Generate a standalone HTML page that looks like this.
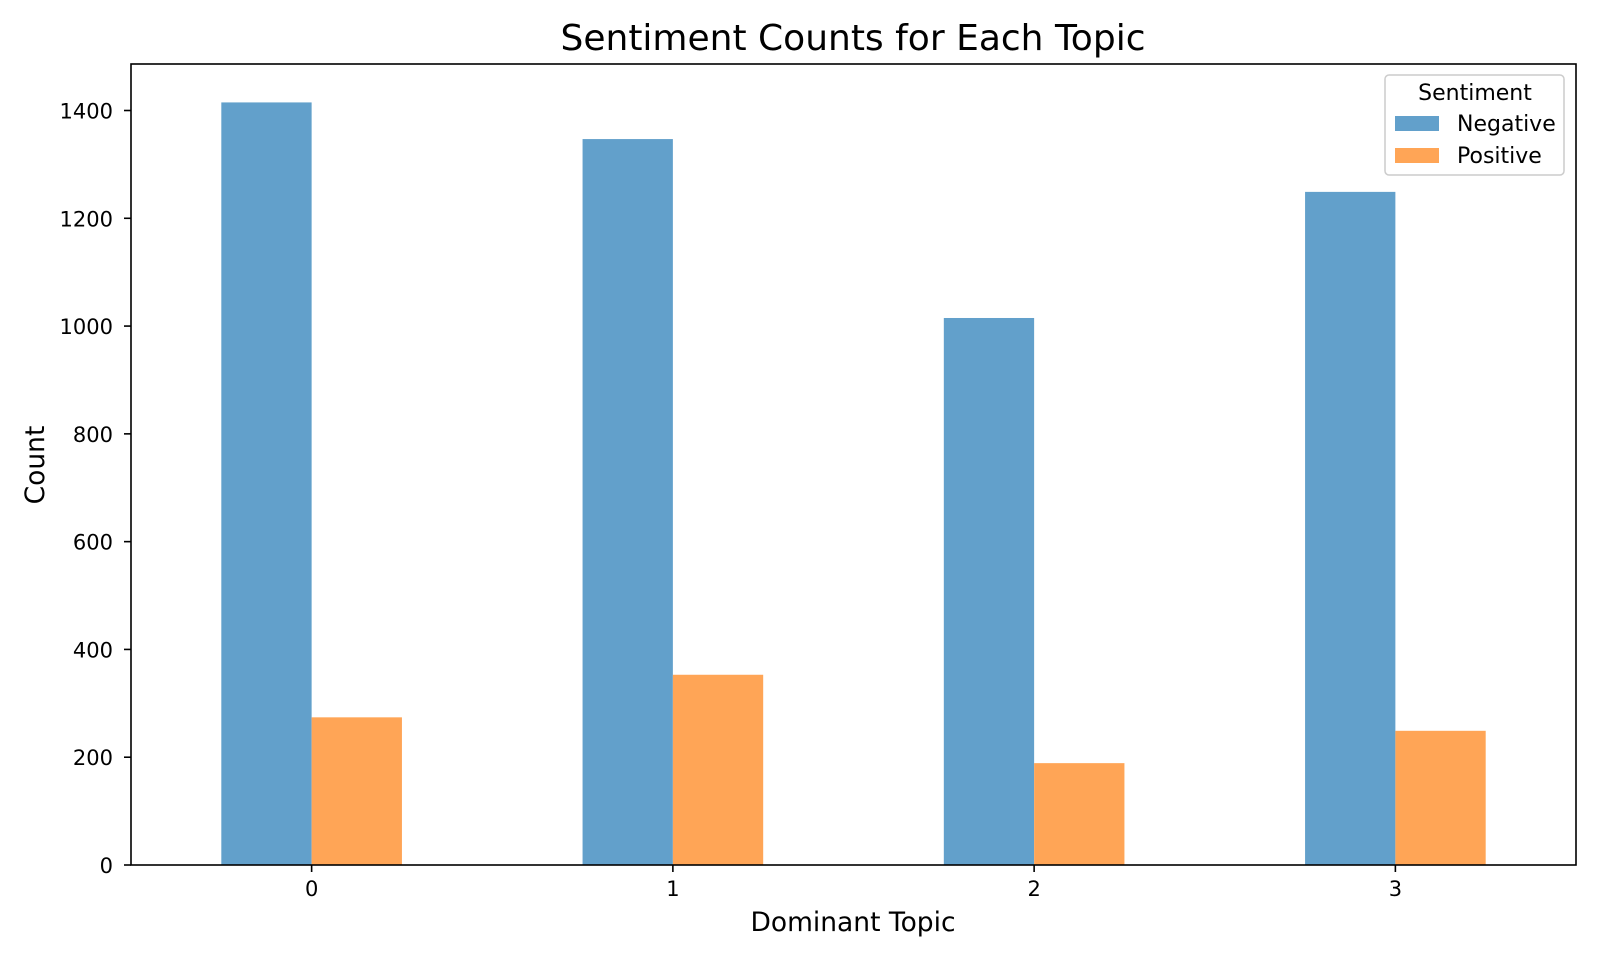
<!DOCTYPE html>
<html><head><meta charset="utf-8"><style>html,body{margin:0;padding:0;background:#fff}svg{display:block;font-family:"DejaVu Sans","Liberation Sans",sans-serif}</style></head>
<body>
<svg id="chart" width="1600" height="960" viewBox="0 0 1600 960" xmlns="http://www.w3.org/2000/svg">
<text x="853" y="50" font-size="36" text-anchor="middle">Sentiment Counts for Each Topic</text>
<g id="bars"></g>
<g id="yaxis"></g>
<g id="xaxis"></g>
<rect x="131" y="64" width="1445" height="801" fill="none" stroke="#000" stroke-width="1.6"/>
<text x="853" y="931" font-size="26.5" text-anchor="middle">Dominant Topic</text>
<text transform="translate(44,465) rotate(-90)" font-size="26.5" text-anchor="middle">Count</text>
<g>
<rect x="1385" y="75" width="179" height="100" rx="4" fill="#fff" stroke="#ccc" stroke-width="1.5"/>
<text x="1475" y="100" font-size="22" text-anchor="middle">Sentiment</text>
<rect x="1395" y="116" width="44" height="15" fill="#62a0cb"/>
<text x="1457" y="131" font-size="22">Negative</text>
<rect x="1395" y="148" width="44" height="15" fill="#ffa556"/>
<text x="1457" y="163" font-size="22">Positive</text>
</g>
</svg>
<script>
const categories = ["0","1","2","3"];
const negative = [1415, 1347, 1015, 1249];
const positive = [274, 353, 189, 249];
const yTicks = [0,200,400,600,800,1000,1200,1400];
const NS="http://www.w3.org/2000/svg";
const L=131,R=1576,T=64,B=865,Y1400=110.5;
const yScale=v=>B-v*(B-Y1400)/1400;
const xScale=i=>L+(i+0.5)*(R-L)/categories.length;
const unit=(R-L)/categories.length, bw=unit*0.25;
function mk(tag,attrs,parent){const e=document.createElementNS(NS,tag);for(const k in attrs)e.setAttribute(k,attrs[k]);parent.appendChild(e);return e;}
const bars=document.getElementById('bars'),ya=document.getElementById('yaxis'),xa=document.getElementById('xaxis');
categories.forEach((c,i)=>{
  const cx=xScale(i);
  let r=mk('rect',{x:cx-bw,y:yScale(negative[i]),width:bw,height:B-yScale(negative[i]),fill:'#62a0cb'},bars);
  
  
  r=mk('rect',{x:cx,y:yScale(positive[i]),width:bw,height:B-yScale(positive[i]),fill:'#ffa556'},bars);
  
  
  const t=mk('line',{x1:cx,x2:cx,y1:B,y2:B+7,stroke:'#000','stroke-width':1.6},xa);
  
  
  const l=mk('text',{x:cx,y:B+31,'font-size':21,'text-anchor':'middle'},xa);
  l.textContent=c;
  
  
});
yTicks.forEach(v=>{
  const y=yScale(v);
  const t=mk('line',{x1:L-7,x2:L,y1:y,y2:y,stroke:'#000','stroke-width':1.6},ya);
  
  
  const l=mk('text',{x:L-18,y:y+8,'font-size':21,'text-anchor':'end'},ya);
  l.textContent=v;
  
  
});
</script>
</body></html>
